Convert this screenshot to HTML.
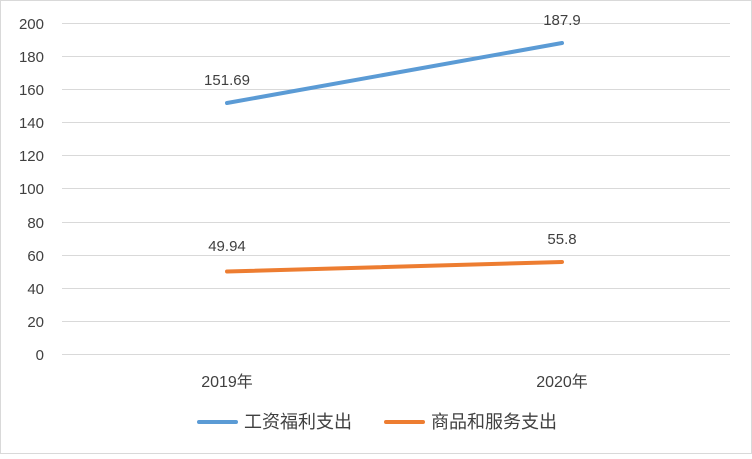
<!DOCTYPE html>
<html><head><meta charset="utf-8"><style>
html,body{margin:0;padding:0;background:#fff;}
svg text{font-family:"Liberation Sans","Noto Sans CJK SC",sans-serif;fill:#404040;font-size:15px;}
</style></head><body>
<svg width="752" height="454" xmlns="http://www.w3.org/2000/svg">
<rect x="0.5" y="0.5" width="751" height="453" fill="#fff" stroke="#d9d9d9"/>
<g stroke="#d9d9d9" stroke-width="1">
<line x1="62" x2="730" y1="23.5" y2="23.5"/>
<line x1="62" x2="730" y1="56.5" y2="56.5"/>
<line x1="62" x2="730" y1="89.5" y2="89.5"/>
<line x1="62" x2="730" y1="122.5" y2="122.5"/>
<line x1="62" x2="730" y1="155.5" y2="155.5"/>
<line x1="62" x2="730" y1="188.5" y2="188.5"/>
<line x1="62" x2="730" y1="222.5" y2="222.5"/>
<line x1="62" x2="730" y1="255.5" y2="255.5"/>
<line x1="62" x2="730" y1="288.5" y2="288.5"/>
<line x1="62" x2="730" y1="321.5" y2="321.5"/>
<line x1="62" x2="730" y1="354.5" y2="354.5"/>
</g>
<g text-anchor="end">
<text x="44" y="29">200</text><text x="44" y="62">180</text><text x="44" y="95">160</text>
<text x="44" y="128">140</text><text x="44" y="161">120</text><text x="44" y="194">100</text>
<text x="44" y="228">80</text><text x="44" y="261">60</text><text x="44" y="294">40</text>
<text x="44" y="327">20</text><text x="44" y="360">0</text>
</g>
<g text-anchor="middle">
<text x="227" y="387" style="font-size:16px">2019年</text><text x="562" y="387" style="font-size:16px">2020年</text>
<text x="227" y="85">151.69</text><text x="562" y="25">187.9</text>
<text x="227" y="251">49.94</text><text x="562" y="244">55.8</text>
</g>
<line x1="227" y1="103" x2="562" y2="43" stroke="#5B9BD5" stroke-width="4" stroke-linecap="round"/>
<line x1="227" y1="271.5" x2="562" y2="262" stroke="#ED7D31" stroke-width="4" stroke-linecap="round"/>
<line x1="199" y1="422" x2="236" y2="422" stroke="#5B9BD5" stroke-width="4" stroke-linecap="round"/>
<text x="244" y="428" style="font-size:18px">工资福利支出</text>
<line x1="386" y1="422" x2="423" y2="422" stroke="#ED7D31" stroke-width="4" stroke-linecap="round"/>
<text x="431" y="428" style="font-size:18px">商品和服务支出</text>
</svg>
</body></html>
